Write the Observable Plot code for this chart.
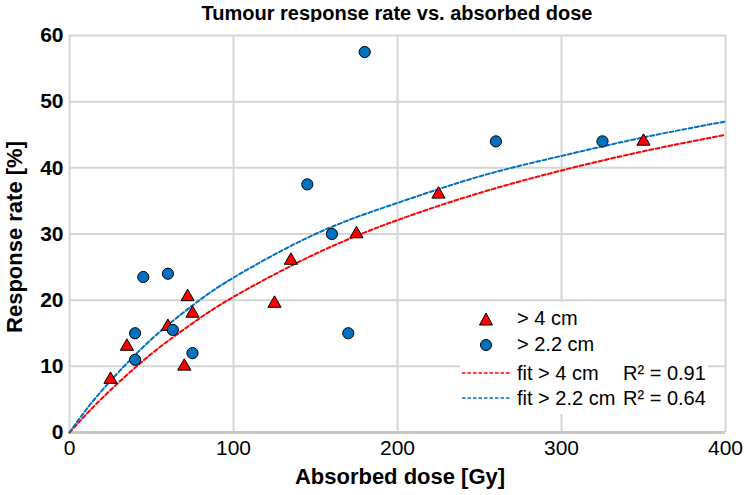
<!DOCTYPE html>
<html><head><meta charset="utf-8">
<script src="https://cdn.jsdelivr.net/npm/d3@7"></script>
<script src="https://cdn.jsdelivr.net/npm/@observablehq/plot@0.6"></script>
<style>
body{margin:0;background:#fff;font-family:"Liberation Sans",Arial,Helvetica,sans-serif;}
#wrap{position:relative;width:750px;height:495px;overflow:hidden;}
#title{position:absolute;top:1px;left:69px;width:656px;text-align:center;font-weight:bold;font-size:20px;line-height:24px;color:#000;}
#chart{position:absolute;top:22px;left:0;}
#xlabel{position:absolute;left:69px;width:662px;top:464px;text-align:center;font-weight:bold;font-size:22px;line-height:26px;}
#ylabel{position:absolute;left:15px;top:237px;transform:translate(-50%,-50%) rotate(-90deg);white-space:nowrap;font-weight:bold;font-size:22px;line-height:26px;}
#legend{position:absolute;left:460px;top:302px;width:248px;height:112px;background:#fff;}
.lt{position:absolute;font-size:20px;line-height:22px;white-space:nowrap;color:#000;}
</style>
</head><body>
<div id="wrap">
  <div id="title">Tumour response rate vs. absorbed dose</div>
  <div id="chart"></div>
  <div id="xlabel">Absorbed dose [Gy]</div>
  <div id="ylabel">Response rate [%]</div>
  <div id="legend">
    <svg width="248" height="112" style="position:absolute;left:0;top:0">
      <path d="M26,11 L32.5,23 L19.5,23 Z" fill="#ff0000" stroke="#000" stroke-width="1"/>
      <circle cx="26" cy="43" r="5.5" fill="#0070c0" stroke="#000" stroke-width="1"/>
      <line x1="2" x2="50" y1="71" y2="71" stroke="#ff0000" stroke-width="1.6" stroke-dasharray="3.5,2"/>
      <line x1="2" x2="50" y1="96" y2="96" stroke="#0070c0" stroke-width="1.6" stroke-dasharray="3.5,2"/>
    </svg>
    <div class="lt" style="left:57px;top:5px">&gt; 4 cm</div>
    <div class="lt" style="left:57px;top:31px">&gt; 2.2 cm</div>
    <div class="lt" style="left:57px;top:60px">fit &gt; 4 cm</div>
    <div class="lt" style="left:163px;top:60px">R² = 0.91</div>
    <div class="lt" style="left:57px;top:85px">fit &gt; 2.2 cm</div>
    <div class="lt" style="left:163px;top:85px">R² = 0.64</div>
  </div>
</div>
<script>
// Data: > 4 cm (triangles)
const doseLarge = [25, 35, 60, 72, 75, 70, 125, 135, 175, 225, 350];
const respLarge = [8, 13, 16, 20.5, 18, 10, 19.5, 26, 30, 36, 44];
// Data: > 2.2 cm (circles)
const doseSmall = [40, 40, 45, 60, 63, 75, 145, 160, 170, 180, 260, 325];
const respSmall = [11, 15, 23.5, 24, 15.5, 12, 37.5, 30, 15, 57.5, 44, 44];
// Fit curves
const fitDose = [0, 10, 25, 50, 75, 100, 150, 200, 250, 300, 350, 400];
const fitLarge = [0, 2.7, 6.4, 11.9, 16.5, 20.5, 27.0, 32.1, 36.2, 39.6, 42.5, 45.0];
const fitSmall = [0, 3.4, 7.8, 14.1, 19.2, 23.4, 30.0, 34.7, 38.7, 41.8, 44.6, 47.0];
const xTicks = [0, 100, 200, 300, 400];
const yTicks = [0, 10, 20, 30, 40, 50, 60];

const large = doseLarge.map((d, i) => ({dose: d, resp: respLarge[i]}));
const small = doseSmall.map((d, i) => ({dose: d, resp: respSmall[i]}));
const fitL = fitDose.map((d, i) => ({dose: d, resp: fitLarge[i]}));
const fitS = fitDose.map((d, i) => ({dose: d, resp: fitSmall[i]}));

const chart = Plot.plot({
  width: 750, height: 473,
  marginLeft: 69, marginRight: 25, marginTop: 13, marginBottom: 63,
  style: {fontFamily: '"Liberation Sans", Arial, sans-serif', background: "#fff", overflow: "visible"},
  x: {domain: [0, 400], label: null},
  y: {domain: [0, 60], label: null},
  marks: [
    Plot.gridX(xTicks, {stroke: "#d6d6d6", strokeOpacity: 1, strokeWidth: 2}),
    Plot.gridY(yTicks, {stroke: "#d6d6d6", strokeOpacity: 1, strokeWidth: 2}),
    Plot.ruleY([0], {stroke: "#c8c8c8", strokeWidth: 3}),
    Plot.axisX(xTicks, {tickSize: 0, tickPadding: 8, fontSize: 21, label: null, fill: "#000"}),
    Plot.axisY(yTicks, {tickSize: 0, tickPadding: 6, fontSize: 21, fontWeight: "bold", label: null, fill: "#000"}),
    Plot.line(fitL, {x: "dose", y: "resp", stroke: "#ff0000", strokeWidth: 2, strokeDasharray: "4,2.5", curve: "natural"}),
    Plot.line(fitS, {x: "dose", y: "resp", stroke: "#0070c0", strokeWidth: 2, strokeDasharray: "4,2.5", curve: "natural"}),
    Plot.dot(large, {x: "dose", y: "resp", symbol: "triangle", r: 4.9, fill: "#ff0000", stroke: "#000", strokeWidth: 1}),
    Plot.dot(small, {x: "dose", y: "resp", symbol: "circle", r: 5.6, fill: "#0070c0", stroke: "#000", strokeWidth: 1})
  ]
});
document.getElementById("chart").appendChild(chart);
</script>
</body></html>
